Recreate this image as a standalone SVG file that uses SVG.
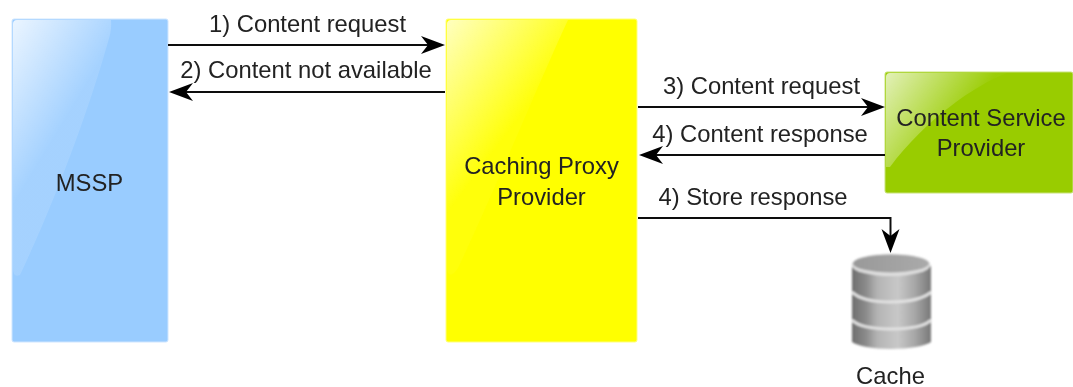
<svg xmlns="http://www.w3.org/2000/svg" width="1073" height="387" viewBox="0 0 1073 387">
<style>
text{font-family:"Liberation Sans",Arial,sans-serif;font-size:23.8px;fill:#222;text-anchor:middle;filter:url(#t)}
.c{fill:none;stroke:#111;stroke-width:2;filter:url(#t)}
.h{fill:#000;stroke:none;filter:url(#t)}
.box,.gl{filter:url(#t)}
</style>
<defs>
<linearGradient id="g" gradientUnits="userSpaceOnUse" x1="13" y1="20" x2="95" y2="70"><stop offset="0" stop-color="#fff" stop-opacity="0.8"/><stop offset="1" stop-color="#fff" stop-opacity="0.12"/></linearGradient>
<linearGradient id="gy" gradientUnits="userSpaceOnUse" x1="447" y1="20" x2="540" y2="90"><stop offset="0" stop-color="#fff" stop-opacity="0.75"/><stop offset="1" stop-color="#fff" stop-opacity="0.04"/></linearGradient>
<linearGradient id="g2" gradientUnits="userSpaceOnUse" x1="886" y1="73" x2="960" y2="125"><stop offset="0" stop-color="#fff" stop-opacity="0.72"/><stop offset="1" stop-color="#fff" stop-opacity="0.03"/></linearGradient>
<linearGradient id="cyl" x1="0" y1="0" x2="1" y2="0"><stop offset="0" stop-color="#6e6e6e"/><stop offset="0.18" stop-color="#8c8c8c"/><stop offset="0.32" stop-color="#b4b4b4"/><stop offset="0.58" stop-color="#c8c8c8"/><stop offset="0.8" stop-color="#a6a6a6"/><stop offset="1" stop-color="#787878"/></linearGradient>
<linearGradient id="top" x1="0" y1="0" x2="1" y2="0"><stop offset="0" stop-color="#999"/><stop offset="1" stop-color="#aaa"/></linearGradient>
<filter id="t" filterUnits="userSpaceOnUse" x="0" y="0" width="1073" height="387"><feGaussianBlur stdDeviation="0.55"/></filter>
<filter id="b" filterUnits="userSpaceOnUse" x="0" y="0" width="1073" height="387"><feGaussianBlur stdDeviation="0.9"/></filter>
</defs>
<g id="mssp">
<rect class="box" x="12" y="19" width="156" height="323" rx="2" fill="#99ccff" stroke="#cfe6ff" stroke-width="1"/>
<path class="gl" d="M13 24Q13 20 17 20H111Q112 30 108 42C90 105 60 190 20 275Q13 278 13 268Z" fill="url(#g)"/>
<text x="89.500" y="191">MSSP</text>
</g>
<g id="proxy">
<rect class="box" x="446" y="19" width="191" height="323" rx="2" fill="#ffff00" stroke="#ffff80" stroke-width="1"/>
<path class="gl" d="M447 24Q447 20 451 20H568C540 80 495 190 458 268Q450 280 447 270Z" fill="url(#gy)"/>
<text x="541.500" y="174">Caching Proxy</text>
<text x="541.500" y="205">Provider</text>
</g>
<g id="csp">
<rect class="box" x="885" y="72" width="188" height="121" rx="2" fill="#99cc00" stroke="#c8e27a" stroke-width="1"/>
<path class="gl" d="M886 77Q886 73 890 73H1007C975 85 925 120 890 167H886Z" fill="url(#g2)"/>
<text x="981" y="126">Content Service</text>
<text x="981" y="156">Provider</text>
</g>
<g id="cache">
<g filter="url(#b)">
<path d="M852 314V342C858 346 872 349 891 349S925 346 931 342V314Z" fill="url(#cyl)"/>
<path d="M852 320C858 326 872 329 891 329S925 326 931 320" fill="none" stroke="#e2e2e2" stroke-width="3"/>
<path d="M852 288V316C858 322 872 326 891 326S925 322 931 316V288Z" fill="url(#cyl)"/>
<path d="M852 292C858 298 872 302 891 302S925 298 931 292" fill="none" stroke="#e2e2e2" stroke-width="3"/>
<path d="M852 266V289C858 295 872 300 891 300S925 295 931 289V266Z" fill="url(#cyl)"/>
<ellipse cx="891" cy="265" rx="39.500" ry="11" fill="#dedede"/>
<ellipse cx="891" cy="263.500" rx="38" ry="9" fill="url(#top)"/>
</g>
<text x="890.500" y="384">Cache</text>
</g>
<g id="connectors">
<path class="c" d="M168 45H430"/>
<path class="h" d="M445 45L421 36L428 45L421 54Z"/>
<path class="c" d="M445 92H184"/>
<path class="h" d="M169 92L193 83L186 92L193 101Z"/>
<path class="c" d="M638 107H870"/>
<path class="h" d="M885 107L861 98L868 107L861 116Z"/>
<path class="c" d="M885 155H654"/>
<path class="h" d="M639 155L663 146L656 155L663 164Z"/>
<path class="c" d="M638 218H890.500V238"/>
<path class="h" d="M890.500 253L881.500 229L890.500 236L899.500 229Z"/>
</g>
<g id="labels">
<text x="307.500" y="32">1) Content request</text>
<text x="306" y="78">2) Content not available</text>
<text x="761.500" y="94">3) Content request</text>
<text x="760" y="142">4) Content response</text>
<text x="753" y="205">4) Store response</text>
</g>
</svg>
